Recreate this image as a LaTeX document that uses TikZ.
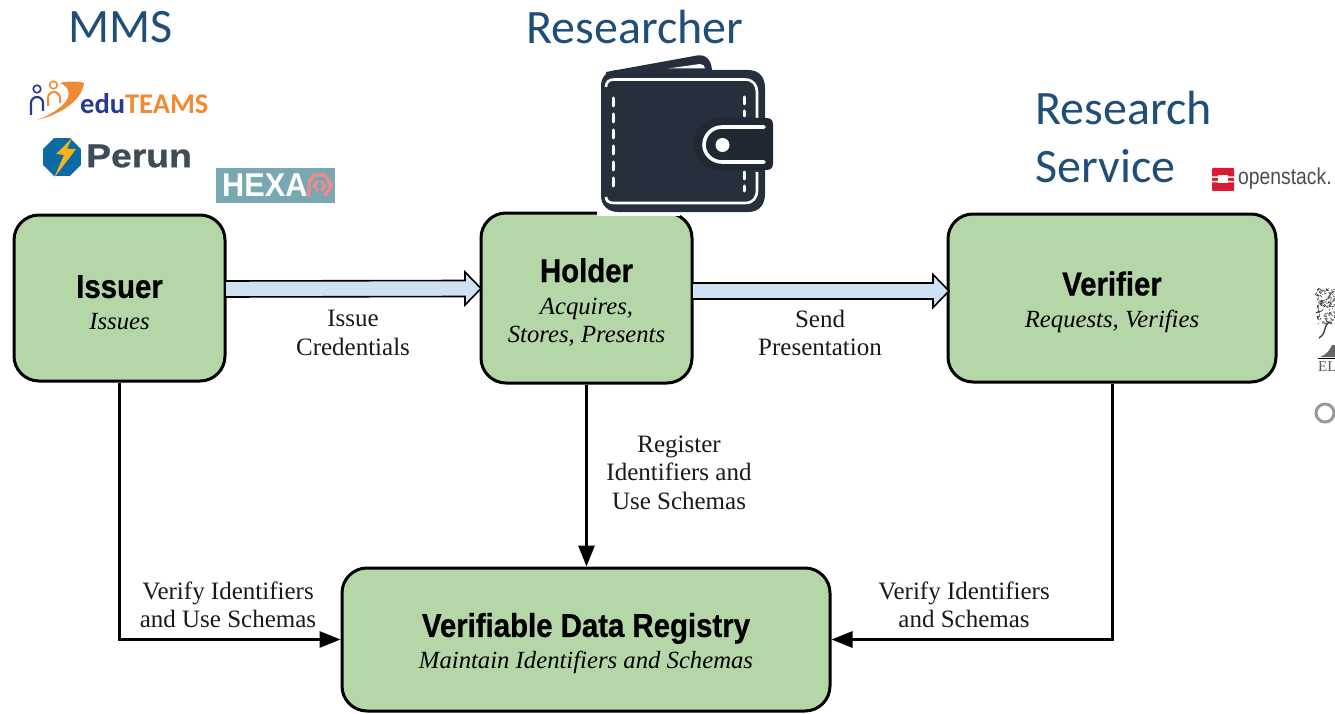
\documentclass[tikz,border=0pt]{standalone}
\usepackage{fontspec}
\setmainfont{Liberation Serif}
\newfontfamily\carlito{Carlito}
\newfontfamily\heros{Liberation Sans}
\newfontfamily\rolefont[BoldFeatures={FakeBold=0.8}]{Liberation Sans}
\usetikzlibrary{calc,arrows.meta,shapes.geometric}
\definecolor{boxgreen}{HTML}{B5D7A8}
\definecolor{arrowblue}{HTML}{CFE2F3}
\definecolor{titleblue}{HTML}{1F4E79}
\definecolor{walletdark}{HTML}{262F3C}
\definecolor{eduorange}{HTML}{F08A33}
\definecolor{edublue}{HTML}{283A8F}
\definecolor{perunblue}{HTML}{0B6BA5}
\definecolor{perunyellow}{HTML}{F5B21A}
\definecolor{perungrey}{HTML}{3D4C56}
\definecolor{hexateal}{HTML}{7AA8B2}
\definecolor{hexapink}{HTML}{F08A8A}
\definecolor{osred}{HTML}{DA1A32}
\definecolor{osgrey}{HTML}{4D4D4F}
\newcommand{\rolehead}[1]{\rule{0pt}{32pt}\scalebox{.89}[1]{\rolefont\bfseries\fontsize{33}{36}\selectfont #1}}
\newcommand{\roleverb}{\itshape\fontsize{24.7}{28}\selectfont}
\newcommand{\blockarrow}[2]{\draw[blockarrow] ($(#1)+(0,-8)$) -- ($(#2)+(-16,-8)$) -- ($(#2)+(-16,-16.5)$) -- (#2) -- ($(#2)+(-16,16.5)$) -- ($(#2)+(-16,8)$) -- ($(#1)+(0,8)$) -- cycle;}
\tikzset{
  rolebox/.style={draw=black,line width=3pt,fill=boxgreen,rounded corners=25pt,align=center,inner sep=0pt,font=\fontsize{24.7}{28}\selectfont},
  blockarrow/.style={draw=black,line width=1.6pt,fill=arrowblue,line join=miter},
  flow/.style={draw=black,line width=3pt,-{Triangle[length=21pt,width=16pt]}},
  lab/.style={align=center,inner sep=0pt,font=\fontsize{25}{28.5}\selectfont,text=black!90},
  heading/.style={inner sep=0pt,anchor=west,text=titleblue,font=\carlito\fontsize{48}{50}\selectfont},
}
\begin{document}
\begin{tikzpicture}[x=1pt,y=-1pt]
\useasboundingbox (0,0) rectangle (1335,714);
% role boxes
\node[rolebox,minimum width=211pt,minimum height=166pt] (issuer) at (119.5,298) {\rolehead{Issuer}\\[4pt]{\roleverb Issues}};
\node[rolebox,minimum width=211pt,minimum height=170pt] (holder) at (586.5,298) {\rolehead{Holder}\\[4pt]{\roleverb Acquires,}\\{\roleverb Stores, Presents}};
\node[rolebox,minimum width=328pt,minimum height=168pt] (verifier) at (1112,298) {\rolehead{Verifier}\\[4pt]{\roleverb Requests, Verifies}};
\node[rolebox,minimum width=488pt,minimum height=143pt] (registry) at (586,639.5) {\rolehead{Verifiable Data Registry}\\[4pt]{\roleverb Maintain Identifiers and Schemas}};
% block arrows
\coordinate (a1) at (225,289);
\coordinate (b1) at (481,288.5);
\coordinate (a2) at (692,291);
\coordinate (b2) at (949,291);
\blockarrow{a1}{b1}
\blockarrow{a2}{b2}
% connectors
\draw[flow] (issuer.south) |- (registry.west);
\draw[flow] (holder.south) -- (registry.north -| holder.south);
\draw[flow] (verifier.south) |- (registry.east);
% labels
\node[lab] (l1) at (353,333) {Issue\\Credentials};
\node[lab] (l2) at (820,333) {Send\\Presentation};
\node[lab] (l3) at (679,472.5) {Register\\Identifiers and\\Use Schemas};
\node[lab] (l4) at (228,605) {Verify Identifiers\\and Use Schemas};
\node[lab] (l5) at (964,605) {Verify Identifiers\\and Schemas};
% headings
\node[heading] (mms) at (68,27) {MMS};
\node[heading] (researcher) at (526,27) {Researcher};
\node[heading] (research) at (1035,108) {Research};
\node[heading] (service) at (1035,166) {Service};
% wallet
\fill[white] (597,209) rectangle (680,215.5);
\fill[walletdark] (606,76) -- (606,72) -- (697,55.5) .. controls (706,54) and (712,60) .. (712,72) -- (712,76) -- cycle;
\fill[white] (668,68.5) -- (700,64) .. controls (703,64) and (705,66) .. (705,68.5) -- cycle;
\fill[walletdark] (601,86) .. controls (601,76) and (608,70) .. (618,70) -- (748,70) .. controls (759,70) and (765,77) .. (765,88) -- (765,194) .. controls (765,205) and (759,212) .. (748,212) -- (618,212) .. controls (608,212) and (601,205) .. (601,196) -- cycle;
\draw[white,line width=2.6pt] (606,87) .. controls (606,82) and (609,79.5) .. (614,79.5) -- (745,79.5) .. controls (753,79.5) and (757,85) .. (757,92) -- (757,118);
\draw[white,line width=2.6pt] (606,197) .. controls (606,201) and (609,203) .. (614,203) -- (745,203) .. controls (753,203) and (757,198) .. (757,190) -- (757,172);
\draw[white,line width=3pt,line cap=round,dash pattern=on 8pt off 8pt,dash phase=8pt] (613.5,90) -- (613.5,192);
\draw[white,line width=3pt,line cap=round,dash pattern=on 7pt off 7pt,dash phase=7pt] (744.5,90) -- (744.5,116);
\draw[white,line width=3pt,line cap=round,dash pattern=on 7pt off 7pt] (744.5,172) -- (744.5,191);
\fill[walletdark!85!black] (720,118) -- (766,118) .. controls (771,118) and (773,120) .. (773,125) -- (773,163) .. controls (773,168) and (771,170) .. (766,170) -- (720,170) .. controls (704,170) and (693,158) .. (693,144) .. controls (693,130) and (704,118) .. (720,118) -- cycle;
\draw[white,line width=3.6pt,line cap=round] (764,127) -- (722,127) .. controls (712,127) and (704,135) .. (704,145) .. controls (704,154) and (712,162) .. (722,162) -- (764,162);
\fill[white] (722.5,145) circle (7pt);
% eduTEAMS
\fill[eduorange] (37,120) .. controls (58,112) and (72,100) .. (68,90) .. controls (67,87) and (64,85) .. (60,83) .. controls (68,81) and (78,81) .. (84,83) .. controls (82,100) and (62,114) .. (37,120) -- cycle;
\draw[white,line width=3.6pt] (48,106) -- (48,98) arc[start angle=180,end angle=360,radius=6] -- (60,103);
\draw[eduorange,line width=2pt] (48,106) -- (48,98) arc[start angle=180,end angle=360,radius=6] -- (60,103);
\draw[eduorange,line width=1.6pt] (53.5,85) circle (3.8pt);
\draw[edublue,line width=2.2pt] (31,115) -- (31,103) arc[start angle=180,end angle=360,radius=6] -- (43,111);
\draw[edublue,line width=1.6pt] (37,89) circle (3.8pt);
\node[inner sep=0pt,anchor=west] (edu) at (80,104) {\carlito\bfseries\fontsize{28.5}{30}\selectfont\textcolor{edublue}{edu}\textcolor{eduorange}{TEAMS}};
% Perun
\node[regular polygon,regular polygon sides=8,fill=perunblue,minimum size=41pt,inner sep=0pt] (perunmark) at (62,157) {};
\fill[perunyellow] (72,138) -- (56,154) -- (64,155) -- (54,178) -- (76,149) -- (67,149) -- cycle;
\node[inner sep=0pt,anchor=west] (perun) at (86,156) {\scalebox{1.13}[1]{\rolefont\bfseries\fontsize{33}{36}\selectfont\textcolor{perungrey}{Perun}}};
% HEXAA
\node[fill=hexateal,minimum width=119pt,minimum height=35pt,inner sep=0pt] (hexaa) at (275.5,185.5) {};
\node[inner sep=0pt,anchor=west] (hexatext) at (222,185.5) {\scalebox{.93}[1]{\heros\bfseries\fontsize{33}{36}\selectfont\textcolor{white}{HEXA}}};
\draw[hexapink,line width=3.4pt,line join=round] (309,197) -- (309,182) -- (314,175) -- (325,175) -- (331.5,185.5) -- (325,196);
\draw[hexapink,line width=2.6pt,line join=round] (318,181) -- (314,186) -- (318,191) (321,181) -- (325,186) -- (321,191);
% openstack
\fill[osred,rounded corners=1pt] (1212,168) rectangle (1234,191);
\fill[white] (1218,175.5) rectangle (1228,183.5);
\fill[white] (1212,176.5) rectangle (1218,178) (1212,181) rectangle (1218,182.5) (1228,176.5) rectangle (1234,178) (1228,181) rectangle (1234,182.5);
\node[inner sep=0pt,anchor=west] (openstack) at (1238,178.5) {\scalebox{.84}[1]{\heros\fontsize{23}{25}\selectfont\textcolor{osgrey}{openstack.}}};
% Elsevier fragment
\begin{scope}
\clip (1310,280) rectangle (1335,430);
\pgfmathsetseed{42}
\foreach \i in {1,...,170} {
  \pgfmathsetmacro{\px}{1317+22*rnd}
  \pgfmathsetmacro{\py}{288+36*rnd}
  \pgfmathsetmacro{\dx}{5*rnd-2.5}
  \pgfmathsetmacro{\dy}{5*rnd-2.5}
  \draw[black!75,line width=.7pt] (\px,\py) -- ++(\dx,\dy);
}
\draw[black!75,line width=1.4pt] (1330,322) .. controls (1322,326) and (1328,332) .. (1319,338);
\fill[black!60] (1320,357) .. controls (1326,355) and (1330,350) .. (1332,345) -- (1340,345) -- (1340,357) -- cycle;
\draw[black,line width=.8pt] (1318,358) -- (1340,358);
\draw[black!40,line width=3pt] (1325,413) circle (9pt);
\end{scope}
\node[inner sep=0pt,anchor=west] (els) at (1318,367) {\fontsize{15}{17}\selectfont\textcolor{black!65}{EL}};
\end{tikzpicture}
\end{document}
